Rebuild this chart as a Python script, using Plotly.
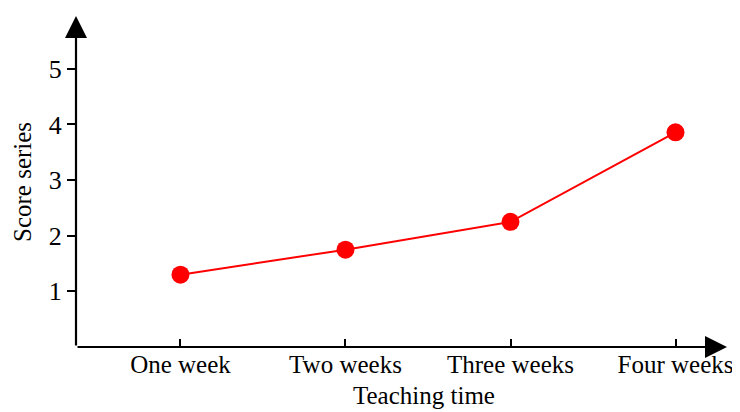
import plotly.graph_objects as go

categories = ["One week", "Two weeks", "Three weeks", "Four weeks"]
scores = [1.30, 1.75, 2.25, 3.86]
y_ticks = [1, 2, 3, 4, 5]
x_title = "Teaching time"
y_title = "Score series"

FONT = "Liberation Serif"
x_pos = list(range(len(categories)))
XMIN, XMAX = -0.633, 3.312
YMIN, YMAX = 0, 5.95

# page shows the figure with an 8px body margin
W, H = 732, 404
L, T, R, B = 68, 8, 13, 65
PW, PH = W - L - R, H - T - B


def px(xp):
    return (xp - L) / PW


def py(yp):
    return (H - B - yp) / PH


fig = go.Figure()
fig.add_trace(go.Scatter(
    x=x_pos, y=scores, mode="lines+markers",
    line=dict(color="#ff0000", width=2),
    marker=dict(color="#ff0000", size=18),
    cliponaxis=False, showlegend=False,
))

fig.update_layout(
    width=W, height=H,
    margin=dict(l=L, r=R, t=T, b=B),
    paper_bgcolor="white", plot_bgcolor="white",
    font=dict(family=FONT, size=26, color="black"),
    xaxis=dict(range=[XMIN, XMAX], tickvals=x_pos, ticktext=categories,
               showgrid=False, zeroline=False, showline=False,
               ticks="inside", ticklen=8, tickwidth=2, tickcolor="black",
               tickfont=dict(family=FONT, size=25)),
    yaxis=dict(range=[YMIN, YMAX], tickvals=y_ticks,
               showgrid=False, zeroline=False, showline=False,
               ticks="outside", ticklen=8, tickwidth=2, tickcolor="black",
               tickfont=dict(family=FONT, size=26)),
)

# axes with arrowheads
fig.add_annotation(x=XMAX, y=0, ax=XMIN, ay=0, xref="x", yref="y", axref="x", ayref="y",
                   showarrow=True, arrowhead=2, arrowsize=2, arrowwidth=2.2,
                   arrowcolor="black", text="", standoff=0, startstandoff=0)
fig.add_annotation(x=XMIN, y=YMAX, ax=XMIN, ay=0, xref="x", yref="y", axref="x", ayref="y",
                   showarrow=True, arrowhead=2, arrowsize=2, arrowwidth=2.2,
                   arrowcolor="black", text="", standoff=0, startstandoff=0)

fig.add_annotation(text=x_title, x=px(416), y=py(387), xref="paper", yref="paper",
                   showarrow=False, xanchor="center", yanchor="middle",
                   font=dict(family=FONT, size=25))
fig.add_annotation(text=y_title, x=px(14), y=py(174), xref="paper", yref="paper",
                   showarrow=False, textangle=-90, xanchor="center", yanchor="middle",
                   font=dict(family=FONT, size=25))

fig.write_html("out.html")
